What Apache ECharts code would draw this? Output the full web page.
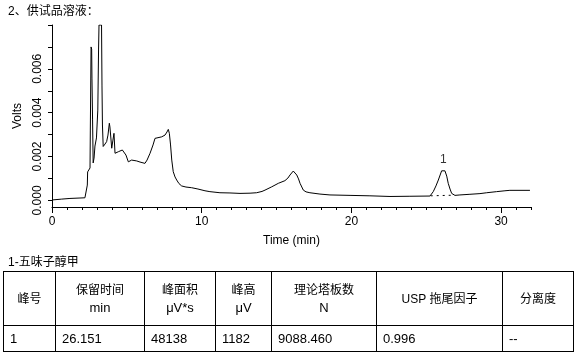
<!DOCTYPE html>
<html>
<head>
<meta charset="utf-8">
<script src="https://cdn.jsdelivr.net/npm/echarts@6/dist/echarts.min.js"></script>
<style>
  html, body { margin: 0; padding: 0; background: #fff; }
  #wrap { position: relative; width: 583px; height: 357px; overflow: hidden; }
  #chart { position: absolute; left: 0; top: 0; width: 583px; height: 357px; }
  #cap { position: absolute; left: 8px; top: 252px; font: 12px "Liberation Sans", "Noto Sans CJK SC", sans-serif; color: #000; white-space: nowrap; }
  table { position: absolute; left: 3px; top: 271px; border-collapse: collapse; font-family: "Liberation Sans", "Noto Sans CJK SC", sans-serif; color: #000; }
  td { border: 1px solid #000; padding: 0; }
  tr.h td { height: 53px; text-align: center; font-size: 12px; line-height: 18px; }
  tr.h td .u { font-size: 13px; }
  tr.d td { height: 25px; text-align: left; font-size: 13px; padding-left: 6px; }
</style>
</head>
<body>
<div id="wrap">
  <div id="chart"></div>
  <div id="cap"></div>
  <table id="tbl"></table>
</div>
<script>
// ---- chart data ----
const timeMin = [0,0.65,1.20,1.87,2.20,2.30,2.36,2.38,2.47,2.54,2.56,2.59,2.61,2.65,2.67,2.71,2.75,2.81,2.87,2.97,3.06,3.11,3.14,3.31,3.34,3.37,3.42,3.54,3.65,3.74,3.83,3.87,3.99,4.07,4.14,4.21,4.31,4.43,4.54,4.70,4.81,4.94,5.10,5.32,5.66,5.88,6.21,6.35,6.55,6.75,6.88,6.99,7.33,7.55,7.68,7.77,7.84,7.92,8.00,8.10,8.22,8.33,8.48,8.66,8.95,9.33,9.75,10.22,10.55,11.22,11.89,12.56,13.23,13.67,14.03,14.23,14.68,15.12,15.56,15.76,15.90,16.12,16.35,16.47,16.57,16.79,16.97,17.23,17.90,18.57,19.91,21.24,22.58,23.91,25.25,25.47,25.65,25.81,26.03,26.15,26.25,26.37,26.47,26.59,26.70,26.92,27.25,27.92,28.59,29.04,29.70,30.26,30.59,31.93];
const volts = [0.00002,0.00006,0.00009,0.00011,0.00012,0.00018,0.00070,0.00130,0.00134,0.00148,0.00321,0.00549,0.00700,0.00690,0.00558,0.00367,0.00171,0.00193,0.00248,0.00285,0.00412,0.00686,0.00800,0.00800,0.00522,0.00344,0.00246,0.00257,0.00268,0.00298,0.00352,0.00335,0.00238,0.00275,0.00306,0.00215,0.00218,0.00222,0.00225,0.00230,0.00225,0.00207,0.00176,0.00184,0.00180,0.00175,0.00169,0.00184,0.00215,0.00253,0.00283,0.00290,0.00290,0.00298,0.00312,0.00324,0.00306,0.00253,0.00184,0.00131,0.00107,0.00093,0.00077,0.00066,0.00061,0.00058,0.00052,0.00044,0.00040,0.00035,0.00034,0.00032,0.00033,0.00035,0.00041,0.00047,0.00062,0.00078,0.00090,0.00102,0.00116,0.00134,0.00116,0.00098,0.00078,0.00047,0.00039,0.00035,0.00029,0.00025,0.00023,0.00021,0.00018,0.00019,0.00020,0.00040,0.00066,0.00093,0.00135,0.00142,0.00135,0.00111,0.00078,0.00052,0.00032,0.00023,0.00025,0.00028,0.00031,0.00035,0.00040,0.00044,0.00046,0.00046];
const baselineTime = [25.3, 26.9];
const baselineVolts = [0.00021, 0.00024];
const peakNames = ['1'];
const peakTime = [26.15];
const peakVolts = [0.00142];
const xTickValues = [0,1,2,3,4,5,6,7,8,9,10,11,12,13,14,15,16,17,18,19,20,21,22,23,24,25,26,27,28,29,30,31,32];
const xLabelValues = [0,10,20,30];
const yTickValues = [0,0.001,0.002,0.003,0.004,0.005,0.006,0.007,0.008];
const yLabelValues = [0,0.002,0.004,0.006];

// ---- table data ----
const caption = '1-五味子醇甲';
const headerTop = ['峰号','保留时间','峰面积','峰高','理论塔板数','USP 拖尾因子','分离度'];
const headerUnit = ['','min','μV*s','μV','N','',''];
const rowValues = ['1','26.151','48138','1182','9088.460','0.996','--'];
const colWidths = [52,89,71,56,105,126,71];

document.getElementById('cap').textContent = caption;
const tbl = document.getElementById('tbl');
let h = '<colgroup>' + colWidths.map(w => '<col style="width:' + w + 'px">').join('') + '</colgroup>';
h += '<tr class="h">' + headerTop.map((t,i) => '<td>' + t + (headerUnit[i] ? '<br><span class="u">' + headerUnit[i] + '</span>' : '') + '</td>').join('') + '</tr>';
h += '<tr class="d">' + rowValues.map(v => '<td>' + v + '</td>').join('') + '</tr>';
tbl.innerHTML = h;
tbl.style.width = colWidths.reduce((a,b)=>a+b,0) + 'px';
tbl.style.tableLayout = 'fixed';

const FONT = '"Liberation Sans", "Noto Sans CJK SC", sans-serif';
const chart = echarts.init(document.getElementById('chart'), null, {renderer: 'canvas'});
const traceData = timeMin.map((t,i) => [t, volts[i]]);
const baseData = baselineTime.map((t,i) => [t, baselineVolts[i]]);
const peakData = peakTime.map((t,i) => ({value: [t, peakVolts[i]], name: peakNames[i]}));

chart.setOption({
  animation: false,
  backgroundColor: '#fff',
  title: {
    text: '2、供试品溶液：', left: 3, top: 1,
    textStyle: {fontSize: 12, fontWeight: 'normal', color: '#000', fontFamily: FONT}
  },
  grid: {left: 52, top: 25, width: 479, height: 182, containLabel: false},
  xAxis: [{
    type: 'value', min: 0, max: 32, position: 'bottom',
    name: 'Time (min)', nameLocation: 'middle', nameGap: 28,
    nameTextStyle: {fontSize: 12, color: '#000', fontFamily: FONT},
    axisLine: {show: true, onZero: false, lineStyle: {color: '#000', width: 1}},
    axisTick: {show: true, length: 3, customValues: xTickValues, lineStyle: {color: '#000'}},
    axisLabel: {show: true, customValues: xLabelValues, margin: 9, fontSize: 12, color: '#000', fontFamily: FONT},
    splitLine: {show: false}
  }, {
    type: 'value', min: 0, max: 32, position: 'bottom', gridIndex: 0,
    axisLine: {show: false, onZero: false},
    axisTick: {show: true, length: 6, customValues: xLabelValues, lineStyle: {color: '#000'}},
    axisLabel: {show: false},
    splitLine: {show: false}
  }],
  yAxis: {
    type: 'value', min: -0.0003, max: 0.008,
    name: 'Volts', nameLocation: 'middle', nameGap: 28, nameRotate: 90,
    nameTextStyle: {fontSize: 12, color: '#000', fontFamily: FONT},
    axisLine: {show: true, onZero: false, lineStyle: {color: '#000', width: 1}},
    axisTick: {show: true, length: 4, customValues: yTickValues, lineStyle: {color: '#000'}},
    axisLabel: {show: true, customValues: yLabelValues, rotate: 90, margin: 8, fontSize: 12, color: '#000', fontFamily: FONT,
      formatter: v => Number(v).toFixed(3)},
    splitLine: {show: false}
  },
  series: [{
    type: 'line', data: traceData, showSymbol: false, symbol: 'none', clip: true,
    lineStyle: {color: '#000', width: 1}, silent: true
  }, {
    type: 'line', data: baseData, showSymbol: false, symbol: 'none',
    lineStyle: {color: '#000', width: 1, type: [2, 4]}, silent: true
  }, {
    type: 'scatter', data: peakData, symbolSize: 0,
    label: {show: true, position: 'top', distance: 4, formatter: p => p.name, fontSize: 12, color: '#000', fontFamily: FONT},
    silent: true
  }]
});
</script>
</body>
</html>
